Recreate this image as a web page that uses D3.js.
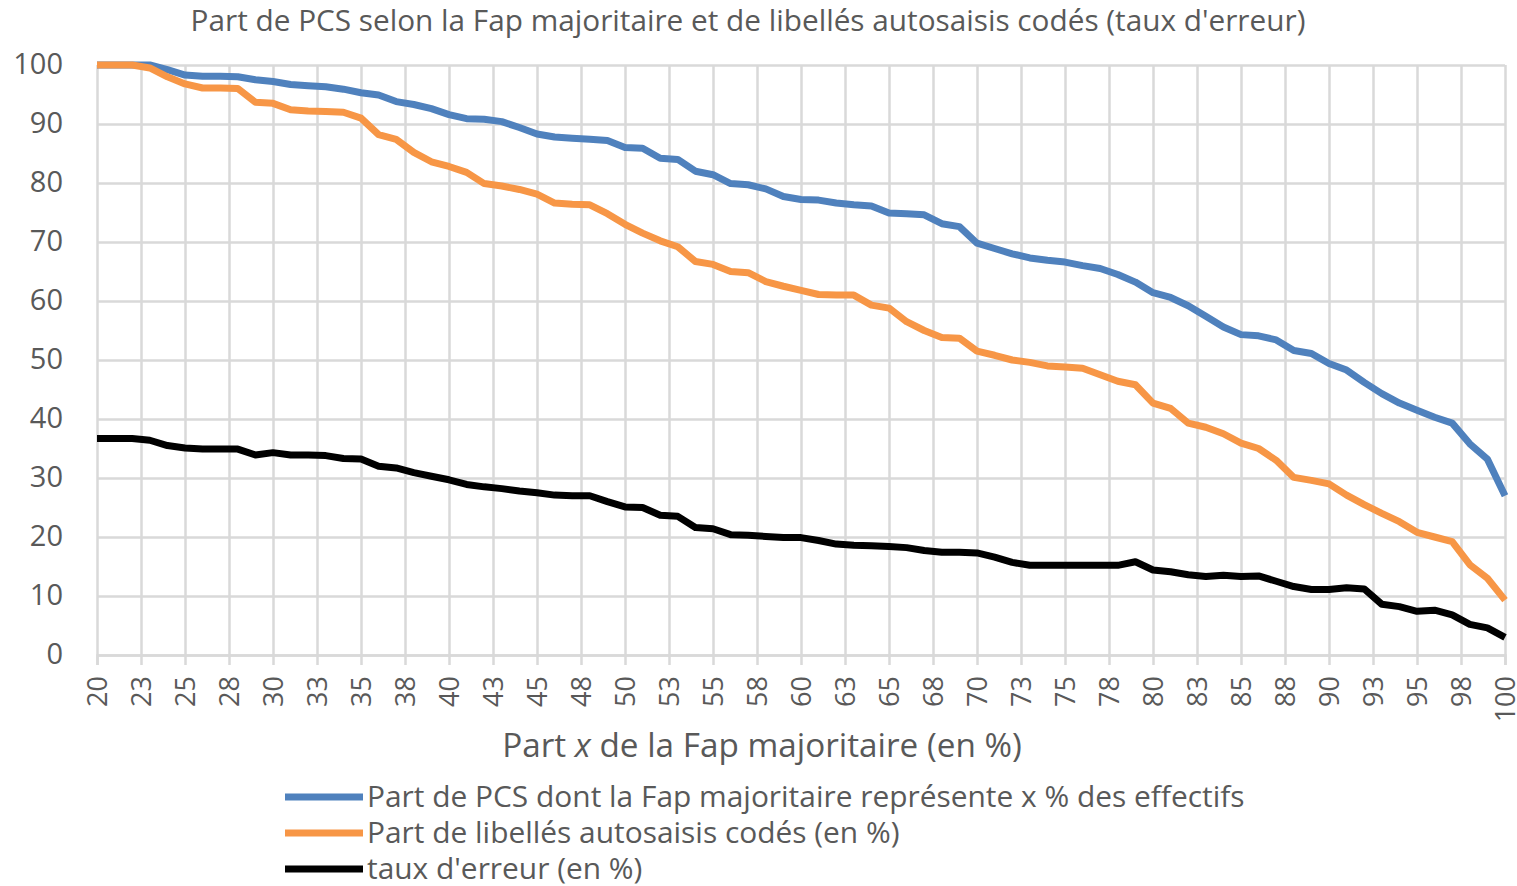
<!DOCTYPE html>
<html>
<head>
<meta charset="utf-8">
<script src="https://cdn.jsdelivr.net/npm/d3@7"></script>
<style>
  body { margin: 0; background: #fff; }
  svg text { font-family: 'Open Sans', 'Noto Sans', sans-serif; fill: #595959; }
</style>
</head>
<body>
<div id="chart"></div>
<script>
var chartTitle = "Part de PCS selon la Fap majoritaire et de libellés autosaisis codés (taux d'erreur)"

var xValues = [
  20, 21, 22, 23, 24, 25, 26, 27, 28, 29, 30, 31, 32, 33, 34, 35, 36, 37, 38, 39,
  40, 41, 42, 43, 44, 45, 46, 47, 48, 49, 50, 51, 52, 53, 54, 55, 56, 57, 58, 59,
  60, 61, 62, 63, 64, 65, 66, 67, 68, 69, 70, 71, 72, 73, 74, 75, 76, 77, 78, 79,
  80, 81, 82, 83, 84, 85, 86, 87, 88, 89, 90, 91, 92, 93, 94, 95, 96, 97, 98, 99, 100
]

var partPcs = [
  100, 100, 100, 100, 99.2, 98.3, 98.1, 98.1, 98.0, 97.5,
  97.2, 96.7, 96.5, 96.3, 95.9, 95.3, 94.9, 93.8, 93.3, 92.6,
  91.6, 90.9, 90.8, 90.4, 89.4, 88.3, 87.8, 87.6, 87.4, 87.2,
  86.0, 85.9, 84.2, 84.0, 82.0, 81.4, 79.9, 79.7, 79.0, 77.7,
  77.2, 77.1, 76.6, 76.3, 76.1, 74.9, 74.8, 74.6, 73.1, 72.6,
  69.8, 68.9, 68.0, 67.3, 66.9, 66.6, 66.0, 65.5, 64.5, 63.2,
  61.4, 60.6, 59.2, 57.4, 55.6, 54.3, 54.1, 53.4, 51.6, 51.1,
  49.4, 48.3, 46.2, 44.3, 42.7, 41.5, 40.3, 39.3, 35.8, 33.2, 27.0
]

var partLibelles = [
  100, 100, 100, 99.5, 98.0, 96.8, 96.1, 96.1, 96.0, 93.7,
  93.5, 92.4, 92.2, 92.1, 92.0, 91.0, 88.2, 87.4, 85.2, 83.6,
  82.8, 81.8, 79.9, 79.5, 78.9, 78.1, 76.6, 76.4, 76.3, 74.8,
  73.0, 71.5, 70.2, 69.2, 66.7, 66.2, 65.0, 64.8, 63.3, 62.5,
  61.8, 61.1, 61.0, 61.0, 59.3, 58.8, 56.5, 55.0, 53.8, 53.7,
  51.5, 50.8, 50.0, 49.6, 49.0, 48.8, 48.6, 47.5, 46.4, 45.8,
  42.7, 41.8, 39.3, 38.6, 37.5, 35.9, 35.0, 33.0, 30.1, 29.6,
  29.0, 27.1, 25.5, 24.0, 22.6, 20.8, 20.0, 19.2, 15.3, 13.0, 9.3
]

var tauxErreur = [
  36.7, 36.7, 36.7, 36.4, 35.5, 35.1, 34.9, 34.9, 34.9, 33.9,
  34.3, 33.9, 33.9, 33.8, 33.3, 33.2, 32.0, 31.7, 30.9, 30.3,
  29.7, 28.9, 28.5, 28.2, 27.8, 27.5, 27.1, 27.0, 27.0, 26.0,
  25.1, 25.0, 23.7, 23.5, 21.6, 21.4, 20.4, 20.3, 20.1, 19.9,
  19.9, 19.4, 18.8, 18.6, 18.5, 18.4, 18.2, 17.7, 17.4, 17.4,
  17.3, 16.6, 15.7, 15.2, 15.2, 15.2, 15.2, 15.2, 15.2, 15.8,
  14.4, 14.1, 13.6, 13.3, 13.5, 13.3, 13.4, 12.5, 11.6, 11.1,
  11.1, 11.4, 11.2, 8.6, 8.2, 7.4, 7.6, 6.8, 5.2, 4.6, 3.0
]

var seriesNames = [
  'Part de PCS dont la Fap majoritaire représente x % des effectifs',
  'Part de libellés autosaisis codés (en %)',
  "taux d'erreur (en %)"
]
var seriesColors = ['#4f81bd', '#f79646', '#000000']

var xTicks = [20, 22.5, 25, 27.5, 30, 32.5, 35, 37.5, 40, 42.5, 45, 47.5, 50, 52.5, 55, 57.5,
  60, 62.5, 65, 67.5, 70, 72.5, 75, 77.5, 80, 82.5, 85, 87.5, 90, 92.5, 95, 97.5, 100]
var xTickLabels = ['20', '23', '25', '28', '30', '33', '35', '38', '40', '43', '45', '48',
  '50', '53', '55', '58', '60', '63', '65', '68', '70', '73', '75', '78', '80', '83', '85',
  '88', '90', '93', '95', '98', '100']
var yTicks = [0, 10, 20, 30, 40, 50, 60, 70, 80, 90, 100]

var width = 1517
var height = 886
var margin = { top: 65, right: 12, bottom: 231, left: 97 }
var innerW = width - margin.left - margin.right
var innerH = height - margin.top - margin.bottom

var svg = d3.select('#chart')
  .append('svg')
  .attr('width', width)
  .attr('height', height)

var g = svg.append('g')
  .attr('transform', 'translate(' + margin.left + ',' + margin.top + ')')

var x = d3.scaleLinear().domain([20, 100]).range([0, innerW])
var y = d3.scaleLinear().domain([0, 100]).range([innerH, 0])

// fit a text to a given width by changing its font size
function fitText (sel, target) {
  var w = sel.node().getComputedTextLength()
  var fs = parseFloat(sel.style('font-size'))
  sel.style('font-size', (fs * target / w) + 'px')
  return fs * target / w
}

// horizontal gridlines
g.append('g')
  .attr('class', 'grid')
  .call(d3.axisLeft(y).tickValues(yTicks).tickSize(-innerW).tickFormat(''))
  .call(function (s) {
    s.select('.domain').remove()
    s.selectAll('line').attr('stroke', '#d9d9d9').attr('stroke-width', 2.5)
  })

// vertical gridlines
g.append('g')
  .attr('class', 'grid')
  .attr('transform', 'translate(0,' + innerH + ')')
  .call(d3.axisBottom(x).tickValues(xTicks).tickSize(-innerH).tickFormat(''))
  .call(function (s) {
    s.select('.domain').remove()
    s.selectAll('line').attr('stroke', '#d9d9d9').attr('stroke-width', 2.5)
  })

// x axis line and small ticks under it
g.append('g')
  .attr('transform', 'translate(0,' + innerH + ')')
  .call(d3.axisBottom(x).tickValues(xTicks).tickSize(10).tickFormat(''))
  .call(function (s) {
    s.select('.domain').attr('stroke', '#d9d9d9').attr('stroke-width', 2.5)
    s.selectAll('line').attr('stroke', '#d9d9d9').attr('stroke-width', 2.5)
  })

// y tick labels
g.append('g')
  .call(d3.axisLeft(y).tickValues(yTicks).tickSize(0).tickPadding(34))
  .call(function (s) {
    s.select('.domain').remove()
    s.selectAll('text')
      .attr('fill', '#595959')
      .attr('dy', '0.3em')
      .style('font-size', '29px')
      .style('font-family', "'Open Sans', sans-serif")
  })

// x tick labels, rotated
g.append('g')
  .selectAll('text')
  .data(xTicks)
  .enter()
  .append('text')
  .attr('transform', function (d) {
    return 'translate(' + x(d) + ',' + (innerH + 21) + ') rotate(-90)'
  })
  .attr('dy', '0.36em')
  .style('text-anchor', 'end')
  .style('font-size', '27px')
  .text(function (d, i) { return xTickLabels[i] })

// lines
var series = [partPcs, partLibelles, tauxErreur]
var line = d3.line()
  .x(function (d, i) { return x(xValues[i]) })
  .y(function (d) { return y(d) })

g.selectAll('.series')
  .data(series)
  .enter()
  .append('path')
  .attr('class', 'series')
  .attr('d', line)
  .attr('fill', 'none')
  .attr('stroke', function (d, i) { return seriesColors[i] })
  .attr('stroke-width', 7)
  .attr('stroke-linejoin', 'round')

// title
var title = svg.append('text')
  .attr('x', 748)
  .attr('y', 31)
  .style('text-anchor', 'middle')
  .style('font-size', '26px')
  .text(chartTitle)
fitText(title, 1115)

// x axis title
var xTitle = svg.append('text')
  .attr('x', 762)
  .attr('y', 757)
  .style('text-anchor', 'middle')
  .style('font-size', '28px')
xTitle.append('tspan').text('Part ')
xTitle.append('tspan').style('font-style', 'italic').text('x')
xTitle.append('tspan').text(' de la Fap majoritaire (en %)')
fitText(xTitle, 520)

// legend
var legendY = [797, 833, 869]
var items = svg.append('g')
  .selectAll('g')
  .data(seriesNames)
  .enter()
  .append('g')
  .attr('transform', function (d, i) { return 'translate(285,' + legendY[i] + ')' })

items.append('line')
  .attr('x1', 0)
  .attr('x2', 78)
  .attr('stroke', function (d, i) { return seriesColors[i] })
  .attr('stroke-width', 7)

items.append('text')
  .attr('x', 82)
  .attr('dy', '0.35em')
  .style('font-size', '26px')
  .text(function (d) { return d })

var fs = fitText(items.select('text'), 878)
items.selectAll('text').style('font-size', fs + 'px')
</script>
</body>
</html>
